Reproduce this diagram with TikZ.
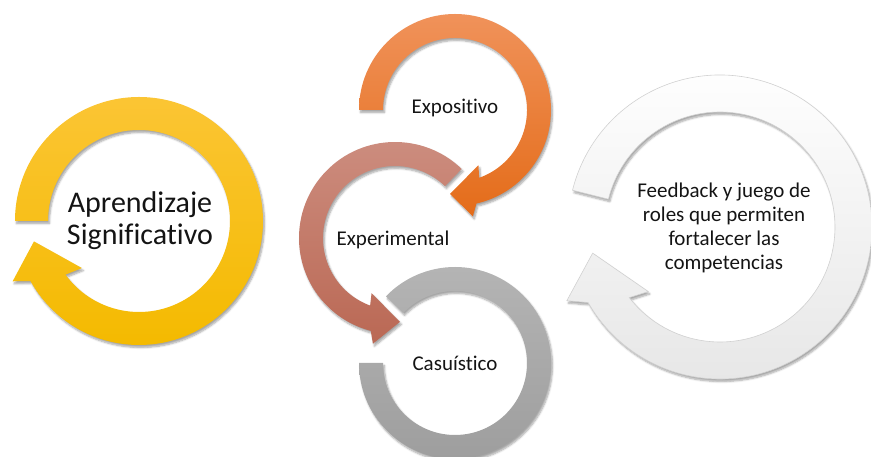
\documentclass[tikz,border=0pt]{standalone}
\usepackage{fontspec}
\setmainfont{Carlito}[Ligatures=NoCommon]
\usetikzlibrary{shadows.blur}
\definecolor{yelT}{RGB}{251,197,52}
\definecolor{yelB}{RGB}{244,186,0}
\definecolor{oraT}{RGB}{240,146,90}
\definecolor{oraB}{RGB}{228,108,25}
\definecolor{broT}{RGB}{205,142,128}
\definecolor{broB}{RGB}{186,104,84}
\definecolor{graT}{RGB}{180,180,180}
\definecolor{graB}{RGB}{158,158,158}
\definecolor{whiB}{RGB}{230,230,230}
\definecolor{txt}{RGB}{20,20,20}
\begin{document}
\begin{tikzpicture}[x=1pt,y=1pt,
  ring/.style={blur shadow={shadow xshift=1.5pt,shadow yshift=-2.5pt,shadow blur steps=6,shadow opacity=35}},
  lbl/.style={align=center,text=txt,font=\fontsize{21}{24}\selectfont},
  biglbl/.style={align=center,text=txt,font=\fontsize{30}{32}\selectfont}]
\useasboundingbox (0,0) rectangle (871,457);
% gray ring (Casuistico)
\begin{scope}[shift={(455,94)}]
\path[ring,top color=graT,bottom color=graB]
  (180:96) arc[start angle=180,end angle=496,radius=96] -- (136:72)
  arc[start angle=136,end angle=-180,radius=72] -- cycle;
\end{scope}
% brown ring (Experimental)
\begin{scope}[shift={(395,219)}]
\path[ring,top color=broT,bottom color=broB]
  (46:96) arc[start angle=46,end angle=255.4,radius=96] -- (258.2:108)
  -- (273.4:84) -- (247:60) -- (249.8:72)
  arc[start angle=249.8,end angle=46,radius=72] -- cycle;
\end{scope}
% orange ring (Expositivo)
\begin{scope}[shift={(455,347)}]
\path[ring,top color=oraT,bottom color=oraB]
  (180:96) arc[start angle=180,end angle=-77.1,radius=96] -- (-80.5:108)
  -- (-93.4:84) -- (-67:60) -- (-70.4:72)
  arc[start angle=-70.4,end angle=180,radius=72] -- cycle;
\end{scope}
% yellow ring
\begin{scope}[shift={(139,236)}]
\path[ring,top color=yelT,bottom color=yelB]
  (180:124) arc[start angle=180,end angle=-151,radius=124] -- (-154.5:140)
  -- (-169:107) -- (-140.5:74) -- (-143.9:91)
  arc[start angle=-143.9,end angle=180,radius=91] -- cycle;
\end{scope}
% white ring
\begin{scope}[shift={(720,230)}]
\path[ring,draw=black!18,line width=0.6pt,top color=white,bottom color=whiB]
  (166:152) arc[start angle=166,end angle=-150.2,radius=152] -- (-154.3:170)
  -- (-168.4:130) -- (-138:96.5) -- (-142.1:115)
  arc[start angle=-142.1,end angle=166,radius=115] -- cycle;
\end{scope}
% labels
\node[biglbl] (apr) at (140,236) {Aprendizaje\\Significativo};
\node[lbl] (expo) at (455,349) {Expositivo};
\node[lbl] (expe) at (393,217) {Experimental};
\node[lbl] (casu) at (455,94) {Casuístico};
\node[lbl] (feed) at (724,229) {Feedback y juego de\\roles que permiten\\fortalecer las\\competencias};
\end{tikzpicture}
\end{document}
